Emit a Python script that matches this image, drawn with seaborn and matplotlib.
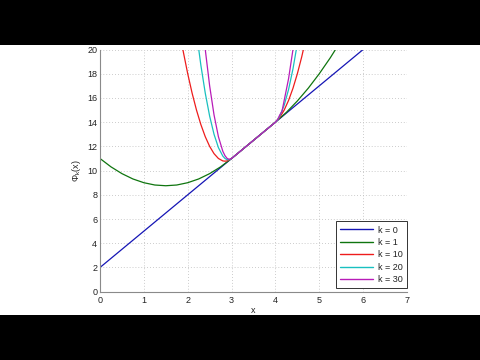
import matplotlib
matplotlib.use("Agg")
import matplotlib.pyplot as plt
import seaborn as sns
import pandas as pd
from matplotlib.patches import Rectangle

# ---- data ----
labels = ["k = 0", "k = 1", "k = 10", "k = 20", "k = 30"]
colors = ["#1515b5", "#0f750f", "#ee1c1c", "#19c0c0", "#b81cb8"]

x_k0 = [0.0, 6.0]
y_k0 = [2.0, 20.0]

x_k1 = [0.0, 0.25, 0.5, 0.75, 1.0, 1.25, 1.5, 1.75, 2.0, 2.25, 2.5, 2.75, 3.0,
        4.0, 4.25, 4.5, 4.75, 5.0, 5.25, 5.5]
y_k1 = [11.0, 10.31, 9.75, 9.31, 9.0, 8.81, 8.75, 8.81, 9.0, 9.31, 9.75, 10.31, 11.0,
        14.0, 14.81, 15.75, 16.81, 18.0, 19.31, 20.75]

x_k10 = [1.8, 1.9, 2.0, 2.1, 2.2, 2.3, 2.4, 2.5, 2.6, 2.7, 2.8, 2.85, 2.9, 3.0,
         4.0, 4.1, 4.2, 4.3, 4.4, 4.5, 4.6, 4.7]
y_k10 = [21.8, 19.8, 18.0, 16.4, 15.0, 13.8, 12.8, 12.0, 11.4, 11.0, 10.8, 10.78, 10.8, 11.0,
         14.0, 14.4, 15.0, 15.8, 16.8, 18.0, 19.4, 21.0]

x_k20 = [2.1, 2.2, 2.3, 2.4, 2.5, 2.6, 2.7, 2.8, 2.85, 2.9, 2.95, 3.0,
         4.0, 4.05, 4.1, 4.2, 4.3, 4.4, 4.5]
y_k20 = [24.5, 21.4, 18.7, 16.4, 14.5, 13.0, 11.9, 11.2, 11.0, 10.9, 10.9, 11.0,
         14.0, 14.2, 14.5, 15.4, 16.7, 18.4, 20.5]

x_k30 = [2.2, 2.3, 2.4, 2.5, 2.6, 2.7, 2.8, 2.85, 2.9, 2.95, 3.0,
         4.0, 4.05, 4.1, 4.15, 4.2, 4.3, 4.4, 4.5]
y_k30 = [27.8, 23.6, 20.0, 17.0, 14.6, 12.8, 11.6, 11.23, 11.0, 10.93, 11.0,
         14.0, 14.22, 14.6, 14.9, 15.8, 17.6, 20.0, 23.0]

x_ticks = [0, 1, 2, 3, 4, 5, 6, 7]
y_ticks = [0, 2, 4, 6, 8, 10, 12, 14, 16, 18, 20]

series_x = [x_k0, x_k1, x_k10, x_k20, x_k30]
series_y = [y_k0, y_k1, y_k10, y_k20, y_k30]

rows = []
for lab, xs, ys in zip(labels, series_x, series_y):
    for xv, yv in zip(xs, ys):
        rows.append({"x": xv, "y": yv, "series": lab})
df = pd.DataFrame(rows)

# ---- style ----
sns.set_style("white")
plt.rcParams["font.family"] = ["Liberation Sans", "DejaVu Sans"]
plt.rcParams["mathtext.default"] = "regular"

fig = plt.figure(figsize=(4.8, 3.6), dpi=100)
fig.patch.set_facecolor("white")
ax = fig.add_axes([100 / 480, 1 - 291.7 / 360, 307 / 480, (291.7 - 49.5) / 360])

sns.lineplot(data=df, x="x", y="y", hue="series", hue_order=labels,
             palette=colors, estimator=None, sort=False, linewidth=0.9,
             ax=ax)

ax.set_xlim(0, 7)
ax.set_ylim(0, 20)
ax.set_xticks(x_ticks)
ax.set_yticks(y_ticks)
ax.grid(True, linestyle=(0, (1, 2.5)), color="#bbbbbb", linewidth=0.6)
for s in ["top", "right"]:
    ax.spines[s].set_visible(False)
for s in ["left", "bottom"]:
    ax.spines[s].set_color("#8a8a8a")
    ax.spines[s].set_linewidth(0.8)
ax.tick_params(direction="in", length=2.5, width=0.6, color="#8a8a8a",
               labelsize=6.5, labelcolor="#222222")
ax.tick_params(axis="y", pad=2)
ax.tick_params(axis="x", pad=3)

ax.set_xlabel("x", fontsize=6.5, color="#222222", labelpad=1)
ax.set_ylabel(r"$\Phi_k(x)$", fontsize=6.5, color="#222222", labelpad=3)

leg = ax.legend(loc="lower right", bbox_to_anchor=(406.5 / 480, 1 - 288.3 / 360),
                bbox_transform=fig.transFigure, borderaxespad=0,
                fontsize=6.5, frameon=True, fancybox=False,
                handlelength=3.7, handletextpad=0.5, labelspacing=0.38,
                borderpad=0.45)
leg.get_frame().set_edgecolor("#333333")
leg.get_frame().set_linewidth(0.7)
leg.get_frame().set_alpha(1)
for line in leg.get_lines():
    line.set_linewidth(1.0)
for t in leg.get_texts():
    t.set_color("#222222")

# letterbox bands
fig.patches.append(Rectangle((0, 1 - 45 / 360), 1, 45 / 360, transform=fig.transFigure,
                             facecolor="black", edgecolor="none", zorder=10))
fig.patches.append(Rectangle((0, 0), 1, 45 / 360, transform=fig.transFigure,
                             facecolor="black", edgecolor="none", zorder=10))

fig.savefig("out.png", dpi=100, facecolor="white")
